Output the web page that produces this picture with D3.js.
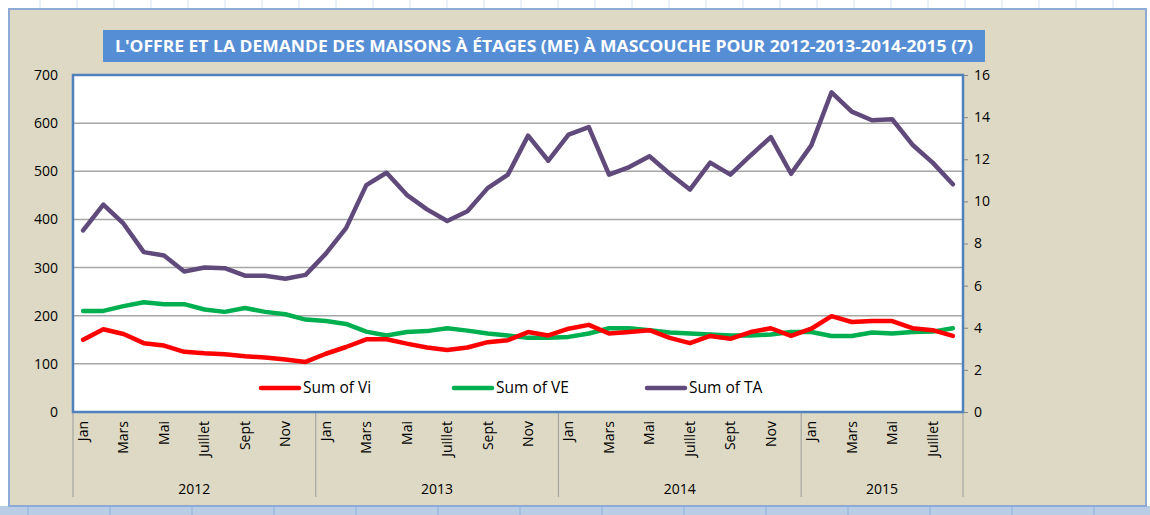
<!DOCTYPE html>
<html>
<head>
<meta charset="utf-8">
<script src="https://d3js.org/d3.v7.min.js"></script>
<style>
  body { margin: 0; background: #ffffff; }
  svg { display: block; font-family: "Open Sans", "Liberation Sans", sans-serif; }
</style>
</head>
<body>
<svg width="1150" height="515" class="chart"></svg>
<script>
  // data
  const years = ["2012", "2013", "2014", "2015"];
  const monthNames = ["Jan", "Fév", "Mars", "Avril", "Mai", "Juin", "Juillet", "Août", "Sept", "Oct", "Nov", "Déc"];
  const monthsPerYear = [12, 12, 12, 8];

  const sumVi = [150, 172, 162, 143, 138, 125, 122, 120, 116, 113, 109, 104,
                 121, 135, 151, 151, 142, 134, 129, 134, 145, 149, 166, 159,
                 173, 181, 163, 166, 170, 154, 143, 158, 152, 166, 174, 158,
                 173, 199, 187, 189, 189, 174, 170, 158];
  const sumVE = [210, 210, 220, 228, 224, 224, 213, 208, 216, 208, 203, 192,
                 189, 183, 167, 159, 166, 168, 174, 169, 163, 159, 154, 154,
                 156, 163, 174, 174, 170, 165, 163, 161, 159, 159, 161, 166,
                 166, 158, 158, 165, 163, 166, 167, 174];
  // TA is plotted on the right axis
  const sumTA = [8.62, 9.85, 8.94, 7.59, 7.43, 6.67, 6.86, 6.83, 6.47, 6.47, 6.33, 6.51,
                 7.52, 8.73, 10.77, 11.36, 10.31, 9.62, 9.07, 9.53, 10.63, 11.27, 13.12, 11.93,
                 13.17, 13.53, 11.27, 11.63, 12.14, 11.31, 10.56, 11.84, 11.27, 12.18, 13.05, 11.31,
                 12.66, 15.18, 14.26, 13.85, 13.90, 12.69, 11.84, 10.81];

  const leftTicks = [0, 100, 200, 300, 400, 500, 600, 700];
  const rightTicks = [0, 2, 4, 6, 8, 10, 12, 14, 16];

  const seriesNames = ["Sum of Vi", "Sum of VE", "Sum of TA"];

  // categories
  const cats = [];
  years.forEach((yr, yi) => {
    for (let m = 0; m < monthsPerYear[yi]; m++) {
      cats.push({key: yr + "-" + m, year: yr, month: m, label: monthNames[m]});
    }
  });

  const svg = d3.select(".chart");

  const plot = {left: 73, right: 963, top: 75, bottom: 412};

  // spreadsheet strip at the bottom
  svg.append("rect").attr("x", 0).attr("y", 506).attr("width", 1150).attr("height", 9).attr("fill", "#b9cde5");
  svg.selectAll(".cell").data(d3.range(28, 1150, 82)).enter().append("line")
    .attr("x1", d => d).attr("x2", d => d).attr("y1", 506).attr("y2", 515)
    .attr("stroke", "#8fb0d8");
  svg.selectAll(".cellTop").data(d3.range(40, 1150, 37)).enter().append("line")
    .attr("x1", d => d).attr("x2", d => d).attr("y1", 0).attr("y2", 9)
    .attr("stroke", "#d6e2f0");

  // chart area
  svg.append("rect")
    .attr("x", 9).attr("y", 9).attr("width", 1137).attr("height", 497)
    .attr("fill", "#ddd9c4").attr("stroke", "#8eaad6").attr("stroke-width", 2);

  // title
  svg.append("rect")
    .attr("x", 103).attr("y", 30).attr("width", 882).attr("height", 32)
    .attr("fill", "#558ed5");
  svg.append("text")
    .attr("x", 544).attr("y", 52)
    .attr("text-anchor", "middle")
    .attr("fill", "#ffffff")
    .attr("font-weight", "bold")
    .attr("font-size", 16)
    .attr("textLength", 858)
    .attr("lengthAdjust", "spacingAndGlyphs")
    .text("L'OFFRE ET LA DEMANDE DES MAISONS À ÉTAGES (ME) À MASCOUCHE POUR 2012-2013-2014-2015  (7)");

  // scales
  const x = d3.scaleBand().domain(cats.map(d => d.key)).range([plot.left, plot.right]);
  const yL = d3.scaleLinear().domain([0, 700]).range([plot.bottom, plot.top]);
  const yR = d3.scaleLinear().domain([0, 16]).range([plot.bottom, plot.top]);
  const cx = i => x(cats[i].key) + x.bandwidth() / 2;

  // plot area
  svg.append("rect")
    .attr("x", plot.left).attr("y", plot.top)
    .attr("width", plot.right - plot.left).attr("height", plot.bottom - plot.top)
    .attr("fill", "#ffffff");

  svg.append("g").selectAll("line")
    .data(leftTicks.slice(1, -1))
    .enter().append("line")
    .attr("x1", plot.left).attr("x2", plot.right)
    .attr("y1", d => yL(d)).attr("y2", d => yL(d))
    .attr("stroke", "#a6a6a6").attr("stroke-width", 1.5);

  // left axis
  const gl = svg.append("g")
    .attr("transform", "translate(" + plot.left + ",0)")
    .call(d3.axisLeft(yL).tickValues(leftTicks).tickSize(0).tickPadding(15));
  gl.select(".domain").remove();
  gl.selectAll("text").attr("font-size", 14).attr("fill", "#000").style("font-family", "'Open Sans', sans-serif");

  // right axis
  const gr = svg.append("g")
    .attr("transform", "translate(" + plot.right + ",0)")
    .call(d3.axisRight(yR).tickValues(rightTicks).tickSize(5).tickPadding(6));
  gr.select(".domain").remove();
  gr.selectAll("line").attr("stroke", "#868686");
  gr.selectAll("text").attr("font-size", 14).attr("fill", "#000").style("font-family", "'Open Sans', sans-serif");

  // month labels
  svg.append("g").selectAll("text")
    .data(cats.filter(d => d.month % 2 === 0))
    .enter().append("text")
    .attr("transform", d => "translate(" + (x(d.key) + x.bandwidth() / 2) + ",421) rotate(-90)")
    .attr("text-anchor", "end")
    .attr("dy", "0.35em")
    .attr("font-size", 14)
    .attr("fill", "#000")
    .text(d => d.label);

  // year separators and labels
  const yearStarts = years.map(yr => x(yr + "-0"));
  const bounds = yearStarts.concat([plot.right]);
  svg.append("g").selectAll("line")
    .data(bounds)
    .enter().append("line")
    .attr("x1", d => d).attr("x2", d => d)
    .attr("y1", plot.bottom).attr("y2", 497)
    .attr("stroke", "#a6a6a6").attr("stroke-width", 1.2);
  svg.append("g").selectAll("text")
    .data(years)
    .enter().append("text")
    .attr("x", (d, i) => (bounds[i] + bounds[i + 1]) / 2)
    .attr("y", 494)
    .attr("text-anchor", "middle")
    .attr("font-size", 14)
    .attr("fill", "#000")
    .text(d => d);

  // series lines
  const lineL = d3.line().x((d, i) => cx(i)).y(d => yL(d));
  const lineR = d3.line().x((d, i) => cx(i)).y(d => yR(d));
  const series = [
    {name: seriesNames[0], values: sumVi, gen: lineL, color: "#ff0000"},
    {name: seriesNames[1], values: sumVE, gen: lineL, color: "#00b050"},
    {name: seriesNames[2], values: sumTA, gen: lineR, color: "#604a7b"}
  ];
  svg.append("g").selectAll("path")
    .data(series.slice().reverse())
    .enter().append("path")
    .attr("d", d => d.gen(d.values))
    .attr("fill", "none")
    .attr("stroke", d => d.color)
    .attr("stroke-width", 4.5)
    .attr("stroke-linejoin", "round")
    .attr("stroke-linecap", "round");

  // legend
  const legend = svg.append("g").selectAll("g")
    .data(series)
    .enter().append("g")
    .attr("transform", (d, i) => "translate(" + (261 + i * 193) + ",388)");
  legend.append("line")
    .attr("x1", 0).attr("x2", 38)
    .attr("stroke", d => d.color).attr("stroke-width", 4.5).attr("stroke-linecap", "round");
  legend.append("text")
    .attr("x", 42).attr("dy", "0.35em")
    .attr("font-size", 15.5)
    .attr("fill", "#000")
    .text(d => d.name);

  // plot border
  svg.append("rect")
    .attr("x", plot.left).attr("y", plot.top)
    .attr("width", plot.right - plot.left).attr("height", plot.bottom - plot.top)
    .attr("fill", "none").attr("stroke", "#4f81bd").attr("stroke-width", 2.5);
</script>
</body>
</html>
